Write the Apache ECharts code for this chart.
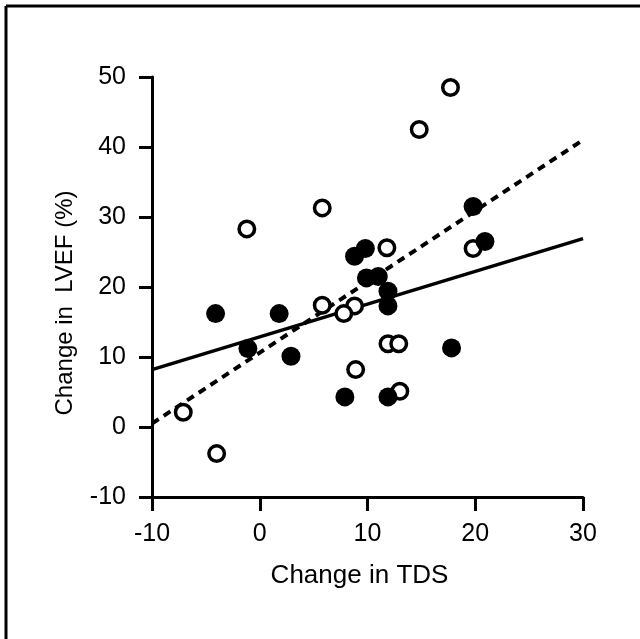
<!DOCTYPE html>
<html>
<head>
<meta charset="utf-8">
<script src="https://cdn.jsdelivr.net/npm/echarts@6/dist/echarts.min.js"></script>
<style>html,body{margin:0;padding:0;background:#fff}#c{width:640px;height:639px}</style>
</head>
<body>
<div id="c"></div>
<script>
// Open circles (x = change in TDS, y = change in LVEF %)
var openX = [17.7, 14.8, 5.8, -1.2, 11.8, 19.8, 5.8, 8.8, 7.8, 11.9, 12.9, 8.9, 13.0, -7.1, -4.0];
var openY = [48.5, 42.5, 31.3, 28.3, 25.6, 25.5, 17.4, 17.3, 16.2, 11.9, 11.9, 8.2, 5.1, 2.1, -3.8];
// Filled circles
var filledX = [19.8, 20.9, 9.8, 8.8, 9.9, 11.0, 11.9, 11.9, -4.1, 1.8, -1.1, 2.9, 17.8, 7.9, 11.9];
var filledY = [31.5, 26.5, 25.5, 24.4, 21.3, 21.5, 19.4, 17.3, 16.2, 16.2, 11.2, 10.1, 11.3, 4.3, 4.3];
// Regression lines (endpoints)
var solidLineX = [-10, 30];
var solidLineY = [8.2, 26.9];
var dashedLineX = [-10, 30];
var dashedLineY = [0.5, 41.0];
// Axis ticks
var xTicks = [-10, 0, 10, 20, 30];
var yTicks = [-10, 0, 10, 20, 30, 40, 50];

function pairs(xs, ys) { return xs.map(function (x, i) { return [x, ys[i]]; }); }

var FONT = 'Liberation Sans';
var chart = echarts.init(document.getElementById('c'));
chart.setOption({
  animation: false,
  backgroundColor: '#fff',
  grid: { left: 152, right: 57, top: 77, bottom: 142, containLabel: false },
  xAxis: {
    type: 'value', min: xTicks[0], max: xTicks[xTicks.length - 1], interval: 10,
    name: 'Change in TDS', nameLocation: 'middle', nameGap: 66,
    nameTextStyle: { fontFamily: FONT, fontSize: 26, color: '#000', padding: [0, 16, 0, 0] },
    axisLine: { show: true, onZero: false, lineStyle: { color: '#000', width: 3 } },
    axisTick: { show: true, length: 14, lineStyle: { color: '#000', width: 3 } },
    axisLabel: { margin: 25, fontFamily: FONT, fontSize: 25, color: '#000' },
    splitLine: { show: false }
  },
  yAxis: {
    type: 'value', min: yTicks[0], max: yTicks[yTicks.length - 1], interval: 10,
    name: 'Change in  LVEF (%)', nameLocation: 'middle', nameGap: 75,
    nameTextStyle: { fontFamily: FONT, fontSize: 24, color: '#000', padding: [0, 32, 0, 0] },
    axisLine: { show: true, onZero: false, lineStyle: { color: '#000', width: 3 } },
    axisTick: { show: true, length: 13, lineStyle: { color: '#000', width: 3 } },
    axisLabel: { margin: 26, fontFamily: FONT, fontSize: 25, color: '#000' },
    splitLine: { show: false }
  },
  graphic: [
    { type: 'line', shape: { x1: 6, y1: 6, x2: 640, y2: 6 }, style: { stroke: '#000', lineWidth: 3 } },
    { type: 'line', shape: { x1: 6, y1: 6, x2: 6, y2: 639 }, style: { stroke: '#000', lineWidth: 3 } }
  ],
  series: [
    {
      type: 'line', data: pairs(solidLineX, solidLineY), symbol: 'none', z: 1,
      lineStyle: { color: '#000', width: 3.5 }
    },
    {
      type: 'line', data: pairs(dashedLineX, dashedLineY), symbol: 'none', z: 1,
      lineStyle: { color: '#000', width: 4, type: [8, 6] }
    },
    {
      type: 'scatter', data: pairs(openX, openY), symbol: 'circle', symbolSize: 15.5, z: 3,
      itemStyle: { color: '#fff', borderColor: '#000', borderWidth: 3.5, opacity: 1 }
    },
    {
      type: 'scatter', data: pairs(filledX, filledY), symbol: 'circle', symbolSize: 19, z: 4,
      itemStyle: { color: '#000', opacity: 1 }
    }
  ]
});
</script>
</body>
</html>
